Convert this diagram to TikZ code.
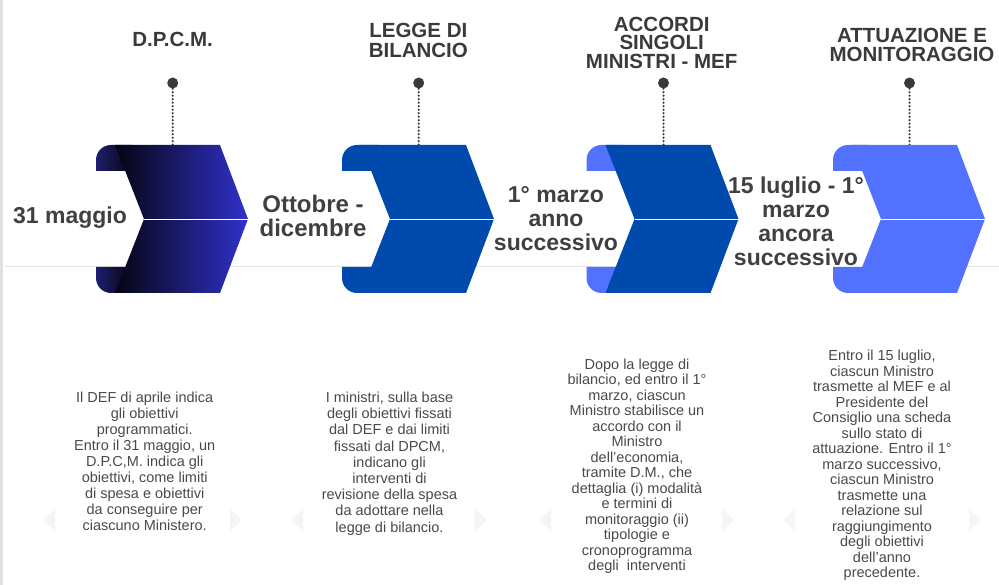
\documentclass[tikz,border=0pt]{standalone}
\usepackage{fontspec}
\setmainfont{Liberation Sans}
\definecolor{navyblue}{HTML}{004AAD}
\definecolor{lightblue}{HTML}{5271FF}
\definecolor{gradA}{HTML}{050512}
\definecolor{gradB}{HTML}{3131CC}
\definecolor{tabdark}{HTML}{1E1E6E}
\definecolor{titlegray}{HTML}{3A3A3A}
\definecolor{dategray}{HTML}{404040}
\definecolor{bodygray}{HTML}{4A4A4A}
\definecolor{linegray}{HTML}{E3E3E3}
\definecolor{ghost}{HTML}{F5F5F5}
\newcommand{\tabtop}{(96,171) -- (96,160) .. controls (96,151.7) and (102.7,145) .. (111,145) -- (132,145) -- (132,171) -- cycle}
\newcommand{\tabbot}{(96,267) -- (96,278) .. controls (96,286.3) and (102.7,293) .. (111,293) -- (132,293) -- (132,267) -- cycle}
\newcommand{\chevbody}{(115,145) -- (220,145) -- (248,219) -- (220,293) -- (115,293) -- (144,219) -- cycle}
\begin{document}
\begin{tikzpicture}[x=1pt,y=-1pt,
  title/.style={anchor=north,inner sep=0pt,align=center,text=titlegray,font=\bfseries\fontsize{20.5}{18.5}\selectfont},
  datelbl/.style={anchor=north,inner sep=4pt,align=center,text=dategray,fill=white,font=\bfseries\fontsize{23}{24}\selectfont},
  bodytxt/.style={anchor=north,inner sep=0pt,align=center,text=bodygray},
  dotmark/.style={circle,fill=titlegray,inner sep=0pt,minimum size=11pt},
  dotline/.style={titlegray,line width=2.4pt,line cap=round,dash pattern=on 0pt off 3.5pt},
  splitline/.style={white,line width=0.8pt},
  ghostarrow/.style={fill=ghost,draw=none}]
\useasboundingbox (0,0) rectangle (999,585);
\fill[white] (0,0) rectangle (999,585);
\fill[black!12] (0,0) rectangle (3,585);
\draw[linegray,line width=1pt] (5,267) -- (999,267);

% faint carousel arrows
\foreach \xl/\xr in {49/236, 297/481, 545/728, 789/975}{
  \fill[ghostarrow] (\xl+6,509) -- (\xl-6,520) -- (\xl+6,531) -- cycle;
  \fill[ghostarrow] (\xr-6,509) -- (\xr+6,520) -- (\xr-6,531) -- cycle;
}

% titles
\node[title] (t1) at (172.5,32) {D.P.C.M.};
\node[title,font=\bfseries\fontsize{20.5}{20}\selectfont] (t2) at (418.3,22.7) {LEGGE DI\\BILANCIO};
\node[title] (t3) at (661.7,16.7) {ACCORDI\\SINGOLI\\MINISTRI - MEF};
\node[title] (t4) at (912,28.3) {ATTUAZIONE E\\MONITORAGGIO};

% dots
\node[dotmark] (d1) at (172.7,83) {};
\node[dotmark] (d2) at (418.7,83) {};
\node[dotmark] (d3) at (663.5,83) {};
\node[dotmark] (d4) at (909.5,83) {};
\coordinate (c1) at (172.7,146);
\coordinate (c2) at (418.7,146);
\coordinate (c3) at (663.5,146);
\coordinate (c4) at (909.5,146);
\draw[dotline] (d1) -- (c1);
\draw[dotline] (d2) -- (c2);
\draw[dotline] (d3) -- (c3);
\draw[dotline] (d4) -- (c4);

% date labels
\node[datelbl] (l1) at (70,203) {31 maggio};
\node[datelbl,font=\bfseries\fontsize{24}{24.3}\selectfont] (l2) at (313,191) {Ottobre -\\dicembre};
\node[datelbl] (l3) at (556,182.7) {1° marzo\\anno\\successivo};
\node[datelbl,inner sep=5pt] (l4) at (796,171.7) {15 luglio - 1°\\marzo\\ancora\\successivo};

% chevron 1 (gradient)
\begin{scope}
  \shade[left color=tabdark,right color=gradA] \tabtop;
  \shade[left color=tabdark,right color=gradA] \tabbot;
  \shade[left color=gradA,right color=gradB] \chevbody;
  \draw[splitline] (144,219) -- (248,219);
\end{scope}
% chevron 2
\begin{scope}[xshift=246pt]
  \fill[navyblue] \tabtop;
  \fill[navyblue] \tabbot;
  \fill[navyblue] \chevbody;
  \draw[splitline] (144,219) -- (248,219);
\end{scope}
% chevron 3
\begin{scope}[xshift=490.5pt]
  \fill[lightblue] \tabtop;
  \fill[lightblue] \tabbot;
  \fill[navyblue] \chevbody;
  \draw[splitline] (144,219) -- (248,219);
\end{scope}
% chevron 4
\begin{scope}[xshift=737pt]
  \fill[lightblue] \tabtop;
  \fill[lightblue] \tabbot;
  \fill[lightblue] \chevbody;
  \draw[splitline] (144,219) -- (248,219);
\end{scope}

% body texts
\node[bodytxt,font=\fontsize{14.5}{16}\selectfont] (b1) at (144.7,391.7) {Il DEF di aprile indica\\gli obiettivi\\programmatici.\\Entro il 31 maggio, un\\D.P.C,M. indica gli\\obiettivi, come limiti\\di spesa e obiettivi\\da conseguire per\\ciascuno Ministero.};
\node[bodytxt,font=\fontsize{14.5}{16.2}\selectfont] (b2) at (389.5,391.7) {I ministri, sulla base\\degli obiettivi fissati\\dal DEF e dai limiti\\fissati dal DPCM,\\indicano gli\\interventi di\\revisione della spesa\\da adottare nella\\legge di bilancio.};
\node[bodytxt,font=\fontsize{14.5}{15.5}\selectfont] (b3) at (637,358.3) {Dopo la legge di\\bilancio, ed entro il 1°\\marzo, ciascun\\Ministro stabilisce un\\accordo con il\\Ministro\\dell’economia,\\tramite D.M., che\\dettaglia (i) modalità\\e termini di\\monitoraggio (ii)\\tipologie e\\cronoprogramma\\degli~ interventi};
\node[bodytxt,font=\fontsize{14.5}{15.5}\selectfont] (b4) at (882,350) {Entro il 15 luglio,\\ciascun Ministro\\trasmette al MEF e al\\Presidente del\\Consiglio una scheda\\sullo stato di\\attuazione. Entro il 1°\\marzo successivo,\\ciascun Ministro\\trasmette una\\relazione sul\\raggiungimento\\degli obiettivi\\dell’anno\\precedente.};
\end{tikzpicture}
\end{document}
